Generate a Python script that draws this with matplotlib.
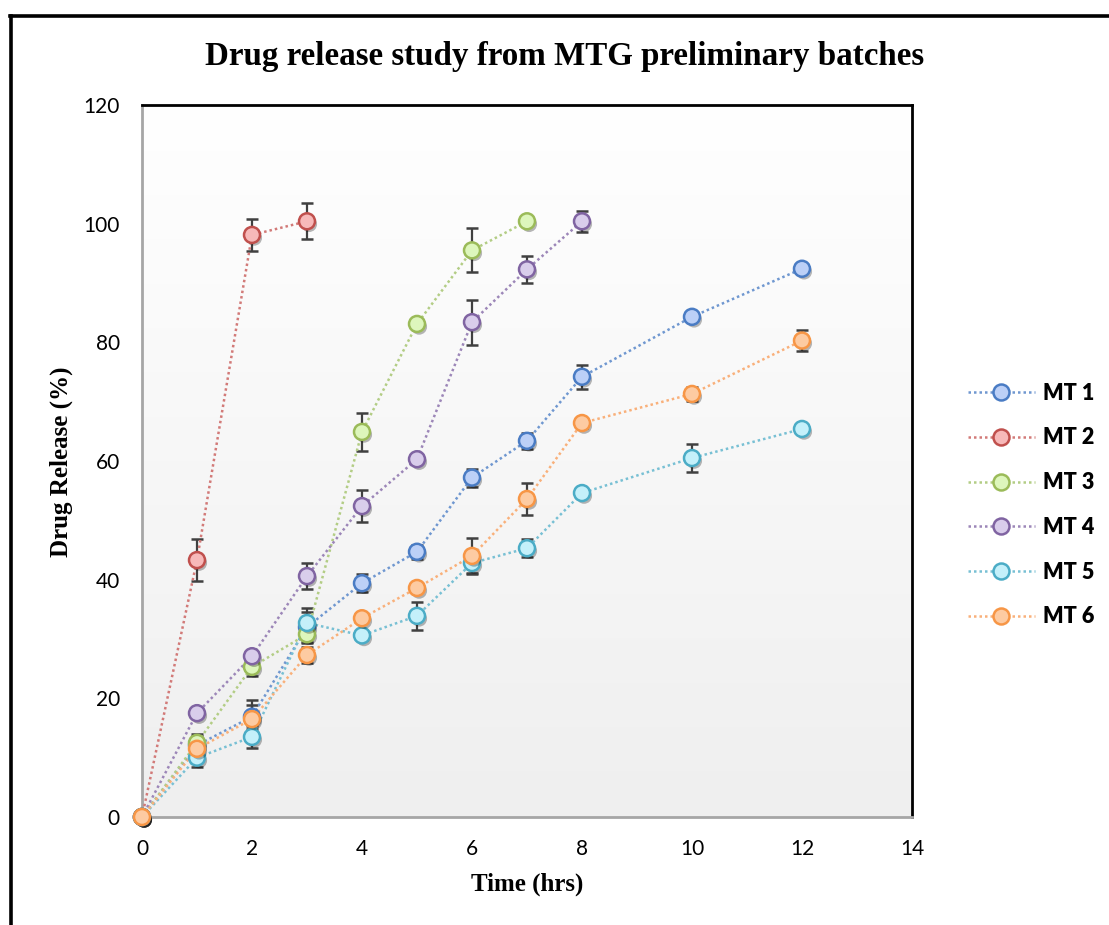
import numpy as np
import matplotlib
matplotlib.use("Agg")
import matplotlib.pyplot as plt
from matplotlib.lines import Line2D
from matplotlib.colors import LinearSegmentedColormap
import matplotlib.patheffects as pe

# Sampling times (hours)
time_mt1 = [0, 1, 2, 3, 4, 5, 6, 7, 8, 10, 12]
time_mt2 = [0, 1, 2, 3]
time_mt3 = [0, 1, 2, 3, 4, 5, 6, 7]
time_mt4 = [0, 1, 2, 3, 4, 5, 6, 7, 8]
time_mt5 = [0, 1, 2, 3, 4, 5, 6, 7, 8, 10, 12]
time_mt6 = [0, 1, 2, 3, 4, 5, 6, 7, 8, 10, 12]

# Cumulative drug release (%) and standard deviations
mt1 = [0, 12.1, 16.9, 32.0, 39.4, 44.7, 57.2, 63.4, 74.2, 84.3, 92.4]
mt1_err = [0, 1.5, 2.0, 2.5, 1.5, 1.2, 1.5, 1.3, 2.0, 0.4, 0.4]
mt2 = [0, 43.3, 98.1, 100.4]
mt2_err = [0, 3.5, 2.7, 3.0]
mt3 = [0, 12.5, 25.3, 30.8, 64.9, 83.1, 95.5, 100.4]
mt3_err = [0, 1.5, 1.5, 1.5, 3.2, 0.5, 3.7, 0.3]
mt4 = [0, 17.5, 27.1, 40.6, 52.4, 60.3, 83.4, 92.3, 100.4]
mt4_err = [0, 0.5, 0.5, 2.2, 2.7, 0.5, 3.8, 2.3, 1.8]
mt5 = [0, 10.0, 13.5, 32.7, 30.6, 33.9, 42.8, 45.3, 54.6, 60.5, 65.4]
mt5_err = [0, 1.5, 1.9, 2.5, 0.8, 2.3, 1.7, 1.5, 0.5, 2.3, 0.3]
mt6 = [0, 11.5, 16.5, 27.3, 33.5, 38.6, 44.0, 53.6, 66.4, 71.3, 80.3]
mt6_err = [0, 1.5, 3.2, 1.3, 0.5, 0.5, 3.0, 2.7, 0.8, 1.2, 1.7]

labels = ["MT 1", "MT 2", "MT 3", "MT 4", "MT 5", "MT 6"]
x_ticks = [0, 2, 4, 6, 8, 10, 12, 14]
y_ticks = [0, 20, 40, 60, 80, 100, 120]

series = [
    (time_mt1, mt1, mt1_err),
    (time_mt2, mt2, mt2_err),
    (time_mt3, mt3, mt3_err),
    (time_mt4, mt4, mt4_err),
    (time_mt5, mt5, mt5_err),
    (time_mt6, mt6, mt6_err),
]
edge_colors = ["#4A7CC4", "#C0504D", "#9BBB59", "#8064A2", "#4BACC6", "#F79646"]
face_colors = ["#BCD0F7", "#F7B9B9", "#DDF6BC", "#D9CDEB", "#C4F0FA", "#FDCBA2"]
line_colors = ["#6F97D0", "#D27A78", "#B3CD85", "#9C86B8", "#78C0D4", "#F9B07A"]

W, H = 1109, 925
fig = plt.figure(figsize=(W / 100, H / 100), dpi=100)
fig.patch.set_facecolor("white")

ax = fig.add_axes([142 / W, 1 - 817 / H, (912 - 142) / W, (817 - 105) / H])

# Soft vertical gradient in the plot area
grad = np.linspace(0, 1, 256).reshape(-1, 1)
cmap = LinearSegmentedColormap.from_list("bg", ["#EFEFEF", "#FFFFFF"])
ax.imshow(grad, extent=(0, 1, 0, 1), transform=ax.transAxes, aspect="auto",
          cmap=cmap, origin="lower", zorder=0, interpolation="bicubic")

shadow = [pe.SimplePatchShadow(offset=(1.5, -2), shadow_rgbFace="black", alpha=0.28),
          pe.Normal()]

dotted = (0, (1, 1.2))
handles = []
for (t, y, e), ec, fc, lc, lab in zip(series, edge_colors, face_colors, line_colors, labels):
    ax.errorbar(t, y, yerr=e, fmt="none", ecolor="#404040", elinewidth=1.6,
                capsize=4.5, capthick=1.8, zorder=2)
    ax.plot(t, y, linestyle=dotted, color=lc, linewidth=1.8, zorder=3)
    ax.plot(t, y, linestyle="none", marker="o", markersize=11.5,
            markerfacecolor=fc, markeredgecolor=ec, markeredgewidth=1.8,
            zorder=4, path_effects=shadow, clip_on=False)
    handles.append(Line2D([], [], linestyle=dotted, color=lc, linewidth=1.8,
                          marker="o", markersize=11.5, markerfacecolor=fc,
                          markeredgecolor=ec, markeredgewidth=1.8))

ax.set_xlim(0, 14)
ax.set_ylim(0, 120)
ax.set_xticks(x_ticks)
ax.set_yticks(y_ticks)
ax.tick_params(length=0, labelsize=15, pad=16)
for lbl in ax.get_xticklabels() + ax.get_yticklabels():
    lbl.set_fontfamily("Lato")

for side in ("top", "right"):
    ax.spines[side].set_color("black")
    ax.spines[side].set_linewidth(2.0)
for side in ("left", "bottom"):
    ax.spines[side].set_color("#A6A6A6")
    ax.spines[side].set_linewidth(2.0)

fig.text(0.509, 1 - 57 / H, "Drug release study from MTG preliminary batches",
         ha="center", va="center", fontsize=23.8, fontweight="bold",
         family="Liberation Serif")
fig.text(61 / W, 1 - 462 / H, "Drug Release (%)", rotation=90, ha="center",
         va="center", fontsize=18, fontweight="bold", family="Liberation Serif")
fig.text(527 / W, 1 - 884 / H, "Time (hrs)", ha="center", va="center",
         fontsize=18, fontweight="bold", family="Liberation Serif")

leg = fig.legend(handles, labels, loc="center left",
                 bbox_to_anchor=(968 / W, 1 - 505 / H), frameon=False,
                 borderpad=0, borderaxespad=0, handlelength=3.1,
                 handletextpad=0.37, labelspacing=1.1,
                 prop={"family": "Lato", "weight": "heavy", "size": 15.5})

# Outer frame lines (left and top edges)
fig.add_artist(Line2D([11 / W, 11 / W], [0, 1 - 16 / H], color="black",
                      linewidth=2.6, transform=fig.transFigure))
fig.add_artist(Line2D([10 / W, 1], [1 - 16 / H, 1 - 16 / H], color="black",
                      linewidth=2.6, transform=fig.transFigure))

fig.savefig("out.png", dpi=100)
